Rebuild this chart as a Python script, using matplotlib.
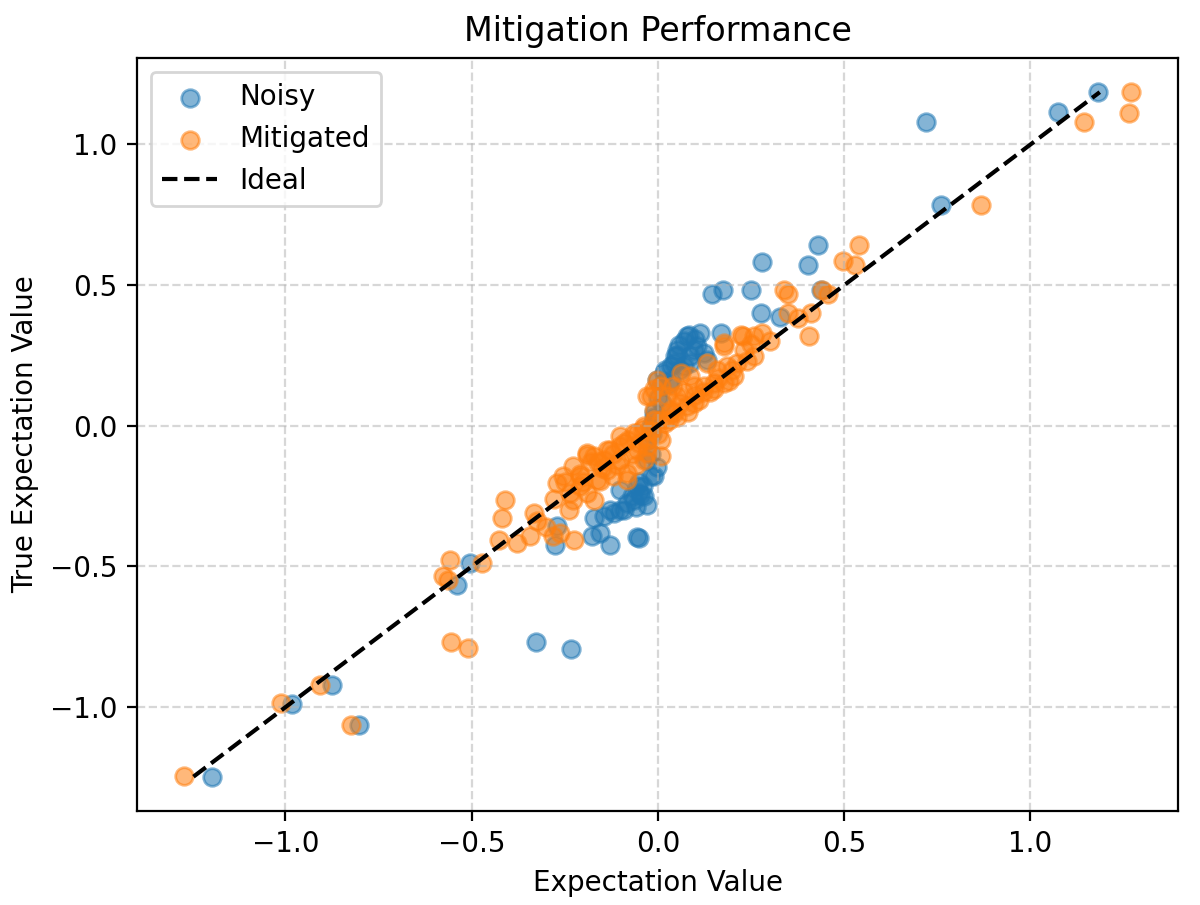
import numpy as np
import matplotlib
matplotlib.use("Agg")
import matplotlib.pyplot as plt

# ---------- Daten ----------
noisy_x = [1.182, 1.075, 0.720, 0.759,
           0.430, 0.280, 0.404,
           0.144, 0.175, 0.251, 0.437,
           0.276, 0.327, 0.168, 0.114, 0.079, 0.083,
           0.056, 0.106, 0.052, 0.096, 0.123, 0.047, 0.087, 0.132,
           0.044, 0.087, 0.034, 0.070, 0.016, 0.034, -0.002, 0.007,
           0.000, -0.010, -0.020, -0.030, -0.020,
           0.020, 0.050, 0.070, 0.100, 0.060, 0.030, 0.010, -0.010, -0.015,
           -0.030, -0.050, -0.070, -0.090, -0.060, -0.030,
           -0.002, -0.011, -0.020, -0.056, -0.039, -0.038, -0.052, -0.045,
           -0.065, -0.083, -0.101, -0.101, -0.128, -0.119, -0.146, -0.173,
           -0.155, -0.176, -0.128, -0.056, -0.050, -0.271, -0.276,
           -0.505, -0.540,
           -0.327, -0.233, -0.874, -0.982, -0.803, -1.196]
noisy_y = [1.186, 1.116, 1.079, 0.784,
           0.642, 0.583, 0.570,
           0.467, 0.482, 0.482, 0.484,
           0.402, 0.386, 0.330, 0.330, 0.318, 0.324,
           0.289, 0.283, 0.271, 0.271, 0.259, 0.247, 0.247, 0.235,
           0.224, 0.224, 0.212, 0.212, 0.188, 0.164, 0.164, 0.140,
           0.100, 0.050, 0.000, -0.050, -0.100,
           0.200, 0.250, 0.300, 0.310, 0.200, 0.150, 0.080, 0.030, -0.030,
           -0.120, -0.200, -0.250, -0.300, -0.290, -0.280,
           -0.145, -0.180, -0.180, -0.215, -0.215, -0.250, -0.239, -0.245,
           -0.262, -0.274, -0.227, -0.298, -0.298, -0.310, -0.322, -0.328,
           -0.380, -0.393, -0.423, -0.395, -0.398, -0.357, -0.423,
           -0.487, -0.566,
           -0.770, -0.792, -0.920, -0.988, -1.065, -1.247]

mitigated_x = [1.270, 1.265, 1.143, 0.866,
               0.539, 0.496, 0.529,
               0.339, 0.350, 0.440, 0.456,
               0.348, 0.411, 0.375, 0.406,
               0.222, 0.280, 0.258, 0.227,
               0.177, 0.177, 0.258, 0.213, 0.132, 0.186, 0.159, 0.204, 0.087,
               0.061, 0.177, 0.150, 0.123, 0.096, 0.007, -0.002, 0.052, 0.025,
               -0.020, -0.029, 0.096, 0.079, 0.044, 0.034, -0.011, 0.034,
               0.007, -0.011, -0.038, -0.065, -0.056, 0.007, -0.029, -0.092,
               -0.101, -0.128, -0.056, -0.137, -0.029, -0.191, -0.191, -0.173,
               0.007, -0.101, -0.146, -0.038, -0.137, -0.227, -0.083, -0.209,
               -0.254, -0.164, -0.083, -0.155, -0.271, -0.209, -0.236, -0.227,
               -0.173, -0.410, -0.334, -0.419, -0.325, -0.262, -0.343, -0.281,
               -0.427, -0.225, -0.379, -0.101,
               -0.120, -0.080, -0.050, -0.020, 0.020, 0.050, 0.060, 0.100,
               0.120, 0.140, 0.160, 0.200, 0.230, 0.250, -0.150, -0.180,
               -0.210, -0.120, -0.060, -0.030, 0.000, 0.030, 0.080, -0.300,
               -0.240, -0.190,
               0.110, 0.150, 0.190, 0.240, 0.300, 0.070, 0.040, -0.010,
               -0.040, -0.070, -0.110, -0.160, -0.200, -0.250, -0.280,
               -0.473, -0.559, -0.577, -0.563,
               -0.556, -0.509, -0.908, -1.012, -0.823, -1.272]
mitigated_y = [1.186, 1.113, 1.079, 0.784,
               0.642, 0.585, 0.571,
               0.484, 0.467, 0.484, 0.467,
               0.402, 0.402, 0.384, 0.318,
               0.324, 0.330, 0.318, 0.321,
               0.295, 0.283, 0.247, 0.224, 0.224, 0.212, 0.200, 0.176, 0.176,
               0.188, 0.153, 0.153, 0.141, 0.141, 0.141, 0.164, 0.105, 0.105,
               0.105, 0.105, 0.081, 0.069, 0.046, 0.046, 0.058, 0.058,
               0.022, 0.022, -0.002, -0.025, -0.025, -0.049, -0.049, -0.061,
               -0.073, -0.085, -0.085, -0.085, -0.096, -0.096, -0.102, -0.108,
               -0.108, -0.120, -0.120, -0.120, -0.156, -0.144, -0.168, -0.180,
               -0.180, -0.191, -0.191, -0.196, -0.203, -0.215, -0.239, -0.262,
               -0.262, -0.262, -0.310, -0.328, -0.340, -0.381, -0.393, -0.393,
               -0.405, -0.405, -0.417, -0.037,
               -0.100, -0.050, -0.060, -0.020, 0.010, 0.030, 0.080, 0.110,
               0.120, 0.120, 0.170, 0.200, 0.270, 0.290, -0.150, -0.130,
               -0.170, -0.180, -0.140, -0.070, -0.030, 0.020, 0.050, -0.360,
               -0.300, -0.240,
               0.090, 0.130, 0.160, 0.230, 0.300, 0.120, 0.140, 0.130,
               -0.010, -0.100, -0.140, -0.130, -0.200, -0.200, -0.260,
               -0.488, -0.476, -0.535, -0.549,
               -0.770, -0.790, -0.920, -0.986, -1.065, -1.243]

# ---------- Plot ----------
fig, ax = plt.subplots(figsize=(6, 4.525), dpi=200)
fig.subplots_adjust(left=0.114, right=0.982, top=0.936, bottom=0.104)

ax.scatter(noisy_x, noisy_y, s=40, alpha=0.55, color="#1f77b4", label="Noisy")
ax.scatter(mitigated_x, mitigated_y, s=40, alpha=0.55, color="#ff7f0e", label="Mitigated")

lo, hi = min(noisy_y), max(noisy_y)
ax.plot([lo, hi], [lo, hi], "k--", lw=1.5, label="Ideal")

ax.set_xlabel("Expectation Value")
ax.set_ylabel("True Expectation Value")
ax.set_title("Mitigation Performance")
ax.grid(True, linestyle="--", alpha=0.5)
ax.legend(loc="upper left")

fig.savefig("out.png")
